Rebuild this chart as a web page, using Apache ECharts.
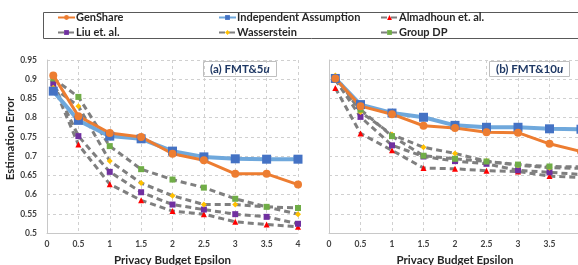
<!DOCTYPE html>
<html><head><meta charset="utf-8">
<script src="https://cdn.jsdelivr.net/npm/echarts@6/dist/echarts.min.js"></script>
<style>html,body{margin:0;padding:0;background:#fff}#c{width:578px;height:265px}</style>
</head><body><div id="c"></div>
<script>
const eps = [0.1, 0.5, 1, 1.5, 2, 2.5, 3, 3.5, 4];
const names = ['GenShare','Independent Assumption','Almadhoun et. al.','Liu et. al.','Wasserstein','Group DP'];
// panel (a) FMT&5u
const a_genshare = [0.910,0.804,0.760,0.750,0.706,0.689,0.654,0.654,0.626];
const a_indep    = [0.869,0.793,0.752,0.745,0.713,0.698,0.693,0.692,0.692];
const a_almad    = [0.885,0.730,0.627,0.585,0.557,0.549,0.529,0.522,0.516];
const a_liu      = [0.889,0.752,0.659,0.606,0.574,0.561,0.549,0.542,0.524];
const a_wass     = [0.878,0.830,0.687,0.630,0.597,0.574,0.574,0.568,0.549];
const a_group    = [0.902,0.854,0.726,0.666,0.639,0.618,0.589,0.568,0.565];
// panel (b) FMT&10u
const b_genshare = [0.902,0.830,0.809,0.779,0.773,0.762,0.761,0.732,0.712];
const b_indep    = [0.902,0.834,0.812,0.801,0.780,0.775,0.775,0.771,0.770];
const b_almad    = [0.877,0.759,0.715,0.669,0.667,0.662,0.660,0.648,0.644];
const b_liu      = [0.899,0.802,0.728,0.699,0.687,0.680,0.663,0.658,0.652];
const b_wass     = [0.910,0.815,0.756,0.723,0.707,0.687,0.676,0.670,0.668];
const b_group    = [0.899,0.821,0.752,0.701,0.693,0.686,0.678,0.673,0.672];
const xTicks = ['0','0.5','1','1.5','2','2.5','3','3.5','4'];

const styles = [
  {color:'#ED7D31', line:'#ED7D31', symbol:'circle', size:8, width:3, type:'solid'},
  {color:'#4472C4', line:'#6FA8DC', symbol:'rect', size:9, width:4, type:'solid'},
  {color:'#FF0000', line:'#7F7F7F', symbol:'triangle', size:6, width:3, type:[6,4]},
  {color:'#7030A0', line:'#7F7F7F', symbol:'rect', size:6, width:3, type:[6,4]},
  {color:'#FFC000', line:'#7F7F7F', symbol:'diamond', size:6, width:3, type:[6,4]},
  {color:'#70AD47', line:'#7F7F7F', symbol:'rect', size:6, width:3, type:[6,4]}
];
const zip = v => eps.map((e,i)=>[e,v[i]]);
const setA = [a_genshare,a_indep,a_almad,a_liu,a_wass,a_group];
const setB = [b_genshare,b_indep,b_almad,b_liu,b_wass,b_group];
const order = [2,3,4,5,1,0];
const series = [];
[setA,setB].forEach((set,gi)=>{
  order.forEach(k=>{
    const s = styles[k];
    series.push({
      name: names[k], type:'line', xAxisIndex:gi, yAxisIndex:gi,
      data: zip(set[k]), symbol:s.symbol, symbolSize:s.size,
      itemStyle:{color:s.color}, lineStyle:{color:s.line, width:s.width, type:s.type},
      z: 2 + (k<2?5:0), animation:false
    });
  });
});
const FF = 'Lato';
const tickFont = {fontSize:8.5, fontWeight:'bold', color:'#404040', fontFamily:FF};
const nameFont = {fontSize:11.5, fontWeight:'bold', color:'#262626', fontFamily:FF};
const grid = {lineStyle:{type:[3,3], color:'#d0d0d0'}};
function xAx(i){return {gridIndex:i, type:'value', min:0, max:4, interval:0.5,
  axisLine:{lineStyle:{color:'#c8c8c8'}}, axisTick:{show:false},
  axisLabel:Object.assign({margin:7, formatter:v=>xTicks[Math.round(v*2)]}, tickFont),
  splitLine:grid, name:'Privacy Budget Epsilon', nameLocation:'middle', nameGap:19, nameTextStyle:nameFont};}
function yAx(i){return {gridIndex:i, type:'value', min:0.5, max:0.95, interval:0.05,
  axisLine:{show:true, lineStyle:{color:'#c8c8c8'}}, axisTick:{show:false},
  axisLabel:Object.assign({show:i===0, margin:10, formatter:v=>String(+v.toFixed(2))}, tickFont),
  splitLine:grid, name:i===0?'Estimation Error':'', nameLocation:'middle', nameGap:23,
  nameTextStyle:Object.assign({padding:[0,0,0,16]}, nameFont)};}
const legendText = {fontSize:11, fontWeight:'bold', color:'#262626', fontFamily:FF, padding:[0,0,0,-4]};
function leg(x, items){return {left:x, top:12, orient:'vertical', itemGap:4, itemWidth:17, itemHeight:6,
  data:items, textStyle:legendText, padding:[0,0,0,0]};}
const titleRich = {a:{fontSize:11.5, fontWeight:'bold', color:'#1F3864', fontFamily:FF},
                   b:{fontSize:11.5, fontWeight:'bold', fontStyle:'italic', color:'#1F3864', fontFamily:FF}};
const option = {
  animation:false,
  grid:[{left:47, top:60, width:251, height:173, outerBoundsMode:'none', containLabel:false},
        {left:329, top:60, width:252, height:173, outerBoundsMode:'none', containLabel:false}],
  xAxis:[xAx(0), xAx(1)], yAxis:[yAx(0), yAx(1)],
  legend:[leg(57,[names[0],names[3]]), leg(218,[names[1],names[4]]), leg(380,[names[2],names[5]])],
  title:[
    {text:'{a|(a) FMT&5}{b|u}', left:203, top:61, borderColor:'#bfbfbf', borderWidth:1, padding:[2,7,2,7], textStyle:{rich:titleRich}},
    {text:'{a|(b) FMT&10}{b|u}', left:489, top:61, borderColor:'#bfbfbf', borderWidth:1, padding:[2,7,2,7], textStyle:{rich:titleRich}}
  ],
  graphic:[{type:'rect', shape:{x:43.5, y:12.5, width:560, height:26}, style:{fill:'none', stroke:'#595959', lineWidth:1}}],
  series
};
const ch = echarts.init(document.getElementById('c'));
ch.setOption(option);
</script></body></html>
